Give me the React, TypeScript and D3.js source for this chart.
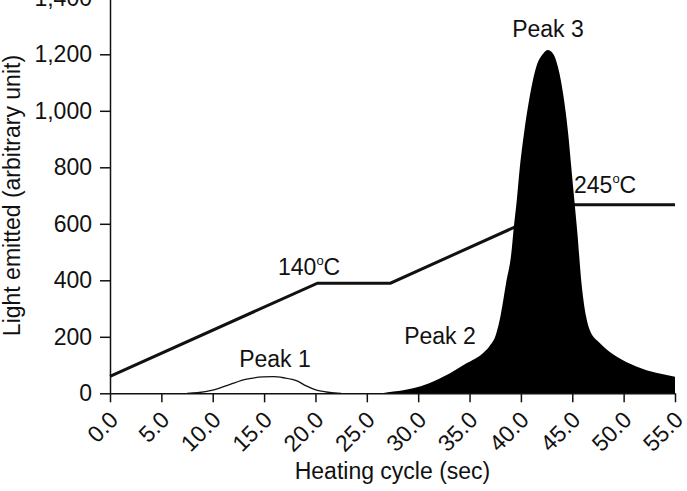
import { useEffect, useRef } from "react";
import * as d3 from "d3";

// heating ramp, plotted on the light axis
const rampSec = [0, 20.2, 27.3, 44.2, 55];
const rampLevel = [60, 390, 390, 667, 667];

// first glow peak (outline only)
const peak1Sec = [7.5, 8.5, 10, 11.7, 13.3, 14.9, 15.9, 16.9, 18.2, 19.1, 20.1, 21.4, 22.5];
const peak1Light = [0, 2, 11, 32, 50, 58, 59, 55, 44, 26, 11, 3, 0];

// peaks 2 and 3 (filled)
const glowSec = [
  26.5, 27.6, 29.5, 31.0, 33.1, 34.7, 36.3, 36.9, 37.6, 38.0, 38.55, 39.1, 39.25, 39.6,
  39.9, 40.3, 40.8, 41.5, 42.2, 42.6, 43.1, 43.6, 44.2, 44.6, 44.9, 45.2, 45.5, 45.9,
  46.35, 46.7, 47.7, 49.3, 51.3, 55,
];
const glowLight = [
  0, 6, 18, 35, 71, 106, 142, 165, 212, 271, 389, 507, 566, 684,
  802, 920, 1038, 1156, 1204, 1215, 1204, 1156, 1038, 920, 802, 684, 566, 389,
  271, 224, 177, 130, 94, 59,
];

const xTicks = d3.range(0, 56, 5);
const yTicks = d3.range(0, 1401, 200);

const FONT = "'Liberation Sans', Arial, Helvetica, sans-serif";

export default function App() {
  const svgRef = useRef(null);

  useEffect(() => {
    const width = 687;
    const height = 491;
    const svg = d3.select(svgRef.current);
    svg.selectAll("*").remove();
    svg.attr("width", width).attr("height", height);

    const x = d3.scaleLinear().domain([0, 55]).range([110, 675]);
    const y = d3.scaleLinear().domain([0, 1400]).range([393.3, -2.2]);

    const ink = "#111";

    // heating ramp sits behind the filled peak
    const ramp = rampSec.map((s, i) => [s, rampLevel[i]] as [number, number]);
    svg.append("path")
      .datum(ramp)
      .attr("fill", "none")
      .attr("stroke", ink)
      .attr("stroke-width", 3)
      .attr("stroke-linejoin", "miter")
      .attr("d", d3.line().x(d => x(d[0])).y(d => y(d[1])) as any);

    const p1 = peak1Sec.map((s, i) => [s, peak1Light[i]] as [number, number]);
    svg.append("path")
      .datum(p1)
      .attr("fill", "none")
      .attr("stroke", ink)
      .attr("stroke-width", 1.3)
      .attr("d", d3.line().curve(d3.curveMonotoneX).x(d => x(d[0])).y(d => y(d[1])) as any);

    const glow = glowSec.map((s, i) => [s, glowLight[i]] as [number, number]);
    svg.append("path")
      .datum(glow)
      .attr("fill", "#000")
      .attr("d", d3.area()
        .curve(d3.curveMonotoneX)
        .x(d => x(d[0]))
        .y0(y(0))
        .y1(d => y(d[1])) as any);

    const xAxis = svg.append("g")
      .attr("transform", `translate(0,${y(0)})`)
      .call(d3.axisBottom(x).tickValues(xTicks).tickFormat(d3.format(".1f")).tickSize(9).tickSizeOuter(0));
    xAxis.selectAll("text")
      .attr("x", 0)
      .attr("y", 0)
      .attr("dy", 0)
      .attr("text-anchor", "end")
      .attr("transform", "translate(9,28) rotate(-45)");

    svg.append("g")
      .attr("transform", `translate(${x(0)},0)`)
      .call(d3.axisLeft(y).tickValues(yTicks).tickFormat(d3.format(",")).tickSize(10).tickPadding(8).tickSizeOuter(0));

    svg.selectAll(".domain, .tick line").attr("stroke", ink).attr("stroke-width", 1.5);
    svg.selectAll(".tick text").attr("fill", ink).attr("font-size", 23).attr("font-family", FONT);

    const label = (tx: number, ty: number, s: string, anchor = "middle") =>
      svg.append("text")
        .attr("x", tx)
        .attr("y", ty)
        .attr("text-anchor", anchor)
        .attr("font-family", FONT)
        .attr("font-size", 23)
        .attr("fill", ink)
        .text(s);

    label(275, 367, "Peak 1");
    label(440, 344, "Peak 2");
    label(548, 37, "Peak 3");

    const degrees = (tx: number, ty: number, t: string) => {
      const el = label(tx, ty, t, "start");
      el.append("tspan").attr("font-size", 13).attr("dy", -10).text("o");
      el.append("tspan").attr("dy", 10).text("C");
    };
    degrees(278, 275, "140");
    degrees(574, 193, "245");

    label((x(0) + x(55)) / 2, 479, "Heating cycle (sec)");

    svg.append("text")
      .attr("transform", `translate(19.5,${(y(0) + y(1400)) / 2}) rotate(-90)`)
      .attr("text-anchor", "middle")
      .attr("font-family", FONT)
      .attr("font-size", 23)
      .attr("fill", ink)
      .text("Light emitted (arbitrary unit)");
  }, []);

  return (
    <div style={{ position: "absolute", left: 0, top: 0 }}>
      <svg ref={svgRef}></svg>
    </div>
  );
}
